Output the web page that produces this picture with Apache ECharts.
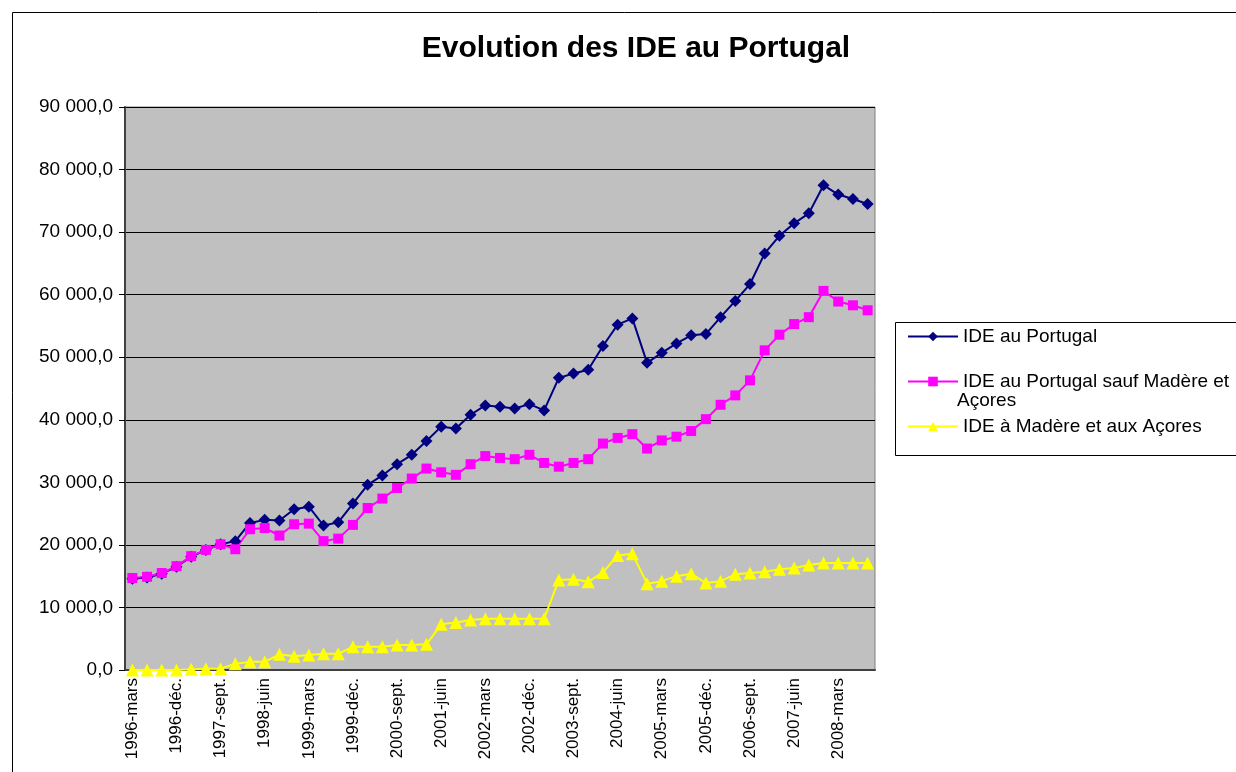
<!DOCTYPE html>
<html>
<head>
<meta charset="utf-8">
<title>Evolution des IDE au Portugal</title>
<script src="https://cdn.jsdelivr.net/npm/echarts@6/dist/echarts.min.js"></script>
<style>
  html, body { margin: 0; padding: 0; background: #fff; }
  #chart { width: 1236px; height: 772px; }
</style>
</head>
<body>
<div id="chart"></div>
<script>
// trimestres 1996-mars .. 2008-sept.
const years = [1996, 1997, 1998, 1999, 2000, 2001, 2002, 2003, 2004, 2005, 2006, 2007, 2008]
const months = ['mars', 'juin', 'sept.', 'déc.']
const categories = []
years.forEach(y => months.forEach(m => categories.push(y + '-' + m)))
categories.length = 51

// IDE au Portugal
const ideTotal = [
  14600, 14800, 15400, 16500, 18100, 19200, 20100, 20600, 23500, 24000,
  23900, 25700, 26100, 23100, 23600, 26600, 29600, 31100, 32900, 34400,
  36600, 38900, 38600, 40800, 42300, 42100, 41800, 42500, 41500, 46700,
  47400, 48000, 51800, 55200, 56200, 49100, 50700, 52200, 53500, 53700,
  56400, 59000, 61700, 66600, 69400, 71400, 73000, 77500, 76000, 75300, 74500
]
// IDE au Portugal sauf Madère et Açores
const ideContinent = [
  14700, 14900, 15500, 16600, 18200, 19200, 20100, 19300, 22500, 22700,
  21500, 23300, 23400, 20600, 21000, 23200, 25900, 27400, 29100, 30600,
  32200, 31600, 31200, 32900, 34200, 33900, 33700, 34400, 33100, 32500,
  33100, 33700, 36200, 37100, 37700, 35400, 36700, 37300, 38200, 40100,
  42400, 43900, 46300, 51100, 53600, 55300, 56400, 60600, 58900, 58300, 57500
]
// IDE à Madère et aux Açores
const ideIles = [
  0, 0, 0, 0, 100, 200, 200, 1000, 1300, 1300,
  2500, 2200, 2400, 2600, 2600, 3700, 3700, 3700, 4000, 4000,
  4100, 7300, 7600, 8000, 8200, 8200, 8200, 8200, 8200, 14400,
  14500, 14100, 15600, 18300, 18600, 13800, 14200, 15000, 15400, 13900,
  14200, 15300, 15500, 15700, 16100, 16300, 16800, 17100, 17100, 17100, 17100
]

const FONT = "'Liberation Sans', Arial, sans-serif"

// 90 000,0
function fmt(v) {
  return String(v).replace(/\B(?=(\d{3})+(?!\d))/g, ' ') + ',0'
}

const chart = echarts.init(document.getElementById('chart'))

const option = {
  backgroundColor: '#fff',
  animation: false,
  textStyle: { fontFamily: FONT },
  title: {
    text: 'Evolution des IDE au Portugal',
    left: 631,
    top: 29,
    textAlign: 'center',
    textStyle: { fontFamily: FONT, fontSize: 30, fontWeight: 'bold', color: '#000' }
  },
  grid: {
    left: 125, top: 107, width: 750, height: 563,
    show: true,
    backgroundColor: '#C0C0C0',
    borderColor: '#808080',
    borderWidth: 1
  },
  legend: {
    orient: 'vertical',
    left: 902,
    top: 322,
    itemWidth: 50,
    itemHeight: 12,
    itemGap: 26,
    data: ['IDE au Portugal', 'IDE au Portugal sauf Madère et Açores', 'IDE à Madère et aux Açores'],
    formatter: name => name === 'IDE au Portugal sauf Madère et Açores' ? 'IDE au Portugal sauf Madère et' : name,
    textStyle: { fontFamily: FONT, fontSize: 19, lineHeight: 18, color: '#000' }
  },
  xAxis: {
    type: 'category',
    data: categories,
    boundaryGap: true,
    axisLine: { lineStyle: { color: '#404040', width: 2 } },
    axisTick: { interval: 0, length: 5, lineStyle: { color: '#000' } },
    axisLabel: {
      interval: 2,
      rotate: 90,
      margin: 8,
      fontFamily: FONT,
      fontSize: 17,
      color: '#000'
    },
    splitLine: { show: false }
  },
  yAxis: {
    type: 'value',
    min: 0,
    max: 90000,
    interval: 10000,
    axisLine: { show: true, lineStyle: { color: '#404040', width: 2 } },
    axisTick: { show: true, length: 6, lineStyle: { color: '#000' } },
    axisLabel: { formatter: fmt, fontFamily: FONT, fontSize: 19, color: '#000', margin: 12 },
    splitLine: { lineStyle: { color: '#000', width: 1 } }
  },
  series: [
    {
      name: 'IDE au Portugal',
      type: 'line',
      data: ideTotal,
      symbol: 'diamond',
      symbolSize: 12,
      showAllSymbol: true,
      itemStyle: { color: '#000080' },
      lineStyle: { color: '#000080', width: 2 }
    },
    {
      name: 'IDE au Portugal sauf Madère et Açores',
      type: 'line',
      data: ideContinent,
      symbol: 'rect',
      symbolSize: 10,
      showAllSymbol: true,
      itemStyle: { color: '#FF00FF' },
      lineStyle: { color: '#FF00FF', width: 2 }
    },
    {
      name: 'IDE à Madère et aux Açores',
      type: 'line',
      data: ideIles,
      symbol: 'triangle',
      symbolSize: 13,
      showAllSymbol: true,
      itemStyle: { color: '#FFFF00' },
      lineStyle: { color: '#FFFF00', width: 2 }
    }
  ],
  graphic: [
    // cadre extérieur
    { type: 'rect', z: -10, shape: { x: 12.5, y: 12.5, width: 1400, height: 900 },
      style: { fill: '#fff', stroke: '#000', lineWidth: 1 } },
    // cadre de la légende
    { type: 'rect', z: -5, shape: { x: 895.5, y: 322.5, width: 400, height: 133 },
      style: { fill: '#fff', stroke: '#000', lineWidth: 1 } },
    { type: 'text', left: 957, top: 391,
      style: { text: 'Açores', font: "19px 'Liberation Sans', Arial, sans-serif", fill: '#000' } }
  ]
}

chart.setOption(option)
</script>
</body>
</html>
